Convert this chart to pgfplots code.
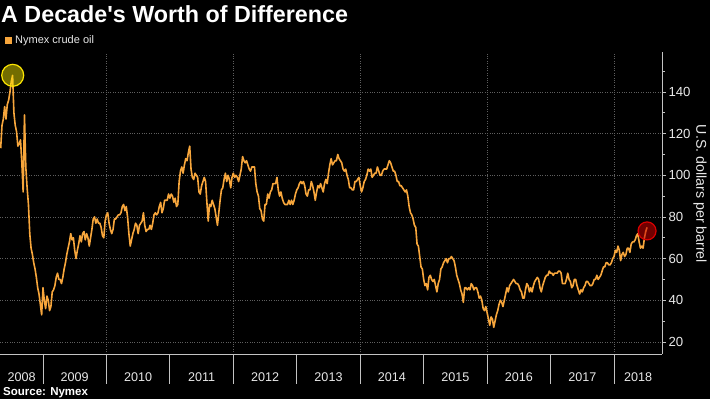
\documentclass[border=0pt]{standalone}
\usepackage{pgfplots}
\pgfplotsset{compat=1.18}
\usepackage{fontspec}
\setmainfont{Liberation Sans}
\definecolor{oil}{RGB}{247,166,60}
\definecolor{gridc}{RGB}{95,95,95}
\definecolor{axisc}{RGB}{195,195,195}
\definecolor{txt}{RGB}{232,232,232}
\begin{document}
\begin{tikzpicture}
\path[use as bounding box, fill=black] (0,0) rectangle (710pt,399pt);
\node[anchor=base west, inner sep=0pt, text=white, font=\bfseries\fontsize{23.3}{23.3}\selectfont] at (1pt,376pt) {A Decade\textquotesingle s Worth of Difference};
\fill[oil] (5pt,355pt) rectangle ++(7pt,7pt);
\node[anchor=west, inner sep=0pt, text=txt, font=\fontsize{11}{11}\selectfont] at (15pt,358.5pt) {Nymex crude oil};
\node[anchor=base west, inner sep=0pt, text=white, font=\bfseries\fontsize{11.5}{11.5}\selectfont] at (3pt,3pt) {Source: Nymex};
\node[rotate=-90, inner sep=0pt, text=txt, font=\fontsize{14.2}{14.2}\selectfont] at (700pt,205pt) {U.S. dollars per barrel};
\begin{axis}[
  at={(0pt,45pt)}, anchor=south west, scale only axis,
  width=662pt, height=302pt,
  xmin=15.48, xmax=516.3, ymin=14.2, ymax=159.2,
  clip=false,
  axis x line*=bottom, axis y line*=right,
  axis line style={draw=axisc, line width=0.8pt, -},
  xtick={31.8,72,120,168,216,264,312,360,408,456,498.2},
  xticklabels={2008,2009,2010,2011,2012,2013,2014,2015,2016,2017,2018},
  x tick style={draw=none},
  minor x tick style={draw=none},
  minor xtick={96,192,288,384,480},
  xminorgrids=true,
  xticklabel style={text=txt, font=\fontsize{12.6}{12.6}\selectfont, anchor=base, yshift=-28pt},
  ytick={20,40,60,80,100,120,140},
  minor ytick={30,50,70,90,110,130,150},
  ymajorgrids=true,
  ytick align=outside,
  major tick length=4pt, minor tick length=3pt,
  y tick style={draw=axisc, line width=0.8pt},
  minor y tick style={draw=axisc, line width=0.8pt},
  yticklabel style={text=txt, font=\fontsize{13.2}{13.2}\selectfont, anchor=west, xshift=-1pt},
  /pgf/number format/assume math mode=true,
  major grid style={draw=gridc, dotted, line width=0.7pt},
  minor grid style={draw=gridc, dotted, line width=0.7pt},
]
\addplot[oil, line width=1.6pt, line join=round] coordinates {
(16,113)(17,124)(18,127)(19,133)
(20,127)(21,134)(22,136)(23,140)
(24,145)(25,148)(26,130)(27,124)
(28,121)(29,114)(30,115)(31,117)
(32,106)(33,92)(34,129)(35,104)
(36,94)(37,86)(38,72)(39,65)
(40,62)(41,58)(42,55)(43,51)
(44,46)(45,43)(46,38)(47,33)
(48,46)(49,40)(50,36)(51,42)
(52,40)(53,35)(54,37)(55,44)
(56,45)(57,47)(58,51)(59,53)
(60,50)(61,50)(62,48)(63,51)
(64,55)(65,58)(66,62)(67,65)
(68,68)(69,72)(70,69)(71,70)
(72,64)(73,60)(74,64)(75,67)
(76,71)(77,68)(78,72)(79,73)
(80,69)(81,72)(82,70)(83,66)
(84,70)(85,74)(86,79)(87,80)
(88,77)(89,79)(90,77)(91,77)
(92,75)(93,71)(94,70)(95,78)
(96,81)(97,82)(98,77)(99,74)
(100,72)(101,74)(102,79)(103,79)
(104,80)(105,81)(106,81)(107,82)
(108,85)(109,86)(110,83)(111,85)
(112,80)(113,72)(114,66)(115,69)
(116,72)(117,74)(118,77)(119,76)
(120,72)(121,76)(122,77)(123,78)
(124,82)(125,76)(126,73)(127,74)
(128,74)(129,76)(130,74)(131,77)
(132,81)(133,82)(134,81)(135,82)
(136,85)(137,87)(138,82)(139,84)
(140,88)(141,88)(142,88)(143,91)
(144,89)(145,91)(146,90)(147,87)
(148,89)(149,85)(150,86)(151,97)
(152,102)(153,104)(154,101)(155,105)
(156,108)(157,107)(158,111)(159,114)
(160,103)(161,99)(162,98)(163,101)
(164,100)(165,99)(166,92)(167,91)
(168,95)(169,97)(170,99)(171,97)
(172,87)(173,78)(174,86)(175,85)
(176,88)(177,86)(178,84)(179,80)
(180,76)(181,82)(182,88)(183,93)
(184,94)(185,98)(186,101)(187,97)
(188,100)(189,98)(190,94)(191,99)
(192,101)(193,99)(194,100)(195,99)
(196,97)(197,100)(198,103)(199,109)
(200,107)(201,106)(202,107)(203,105)
(204,103)(205,102)(206,104)(207,104)
(208,104)(209,96)(210,92)(211,90)
(212,84)(213,83)(214,79)(215,78)
(216,86)(217,86)(218,91)(219,89)
(220,92)(221,93)(222,96)(223,96)
(224,96)(225,99)(226,93)(227,90)
(228,92)(229,89)(230,87)(231,86)
(232,86)(233,86)(234,88)(235,86)
(236,88)(237,86)(238,88)(239,91)
(240,93)(241,94)(242,96)(243,97)
(244,96)(245,97)(246,95)(247,91)
(248,90)(249,93)(250,93)(251,97)
(252,95)(253,92)(254,88)(255,92)
(256,95)(257,94)(258,96)(259,94)
(260,92)(261,96)(262,98)(263,96)
(264,101)(265,105)(266,108)(267,105)
(268,106)(269,107)(270,107)(271,110)
(272,108)(273,107)(274,106)(275,103)
(276,102)(277,103)(278,100)(279,98)
(280,94)(281,94)(282,93)(283,93)
(284,97)(285,97)(286,98)(287,99)
(288,95)(289,92)(290,94)(291,97)
(292,98)(293,100)(294,103)(295,102)
(296,103)(297,99)(298,100)(299,101)
(300,101)(301,104)(302,102)(303,100)
(304,100)(305,102)(306,103)(307,103)
(308,103)(309,105)(310,107)(311,106)
(312,104)(313,102)(314,102)(315,100)
(316,97)(317,97)(318,95)(319,95)
(320,94)(321,93)(322,92)(323,93)
(324,90)(325,85)(326,82)(327,81)
(328,79)(329,76)(330,75)(331,67)
(332,66)(333,61)(334,56)(335,55)
(336,50)(337,47)(338,48)(339,45)
(340,51)(341,52)(342,50)(343,49)
(344,50)(345,47)(346,44)(347,48)
(348,50)(349,55)(350,56)(351,58)
(352,59)(353,60)(354,58)(355,60)
(356,60)(357,61)(358,60)(359,59)
(360,56)(361,52)(362,50)(363,48)
(364,45)(365,43)(366,39)(367,46)
(368,46)(369,45)(370,46)(371,45)
(372,48)(373,47)(374,45)(375,46)
(376,46)(377,44)(378,41)(379,42)
(380,40)(381,36)(382,35)(383,37)
(384,34)(385,31)(386,28)(387,32)
(388,31)(389,27)(390,30)(391,33)
(392,35)(393,38)(394,40)(395,39)
(396,37)(397,40)(398,43)(399,46)
(400,44)(401,47)(402,48)(403,49)
(404,50)(405,49)(406,48)(407,48)
(408,47)(409,45)(410,44)(411,41)
(412,41)(413,45)(414,48)(415,47)
(416,44)(417,46)(418,44)(419,47)
(420,49)(421,50)(422,51)(423,50)
(424,46)(425,44)(426,47)(427,49)
(428,51)(429,52)(430,52)(431,54)
(432,53)(433,53)(434,52)(435,53)
(436,53)(437,53)(438,54)(439,54)
(440,53)(441,48)(442,48)(443,48)
(444,50)(445,53)(446,50)(447,49)
(448,46)(449,47)(450,50)(451,50)
(452,47)(453,45)(454,43)(455,45)
(456,44)(457,46)(458,47)(459,49)
(460,49)(461,48)(462,47)(463,47)
(464,48)(465,50)(466,50)(467,52)
(468,50)(469,51)(470,52)(471,54)
(472,56)(473,56)(474,58)(475,58)
(476,57)(477,57)(478,58)(479,60)
(480,61)(481,64)(482,63)(483,66)
(484,64)(485,59)(486,62)(487,63)
(488,61)(489,62)(490,65)(491,65)
(492,63)(493,67)(494,68)(495,68)
(496,69)(497,71)(498,72)(499,68)
(500,65)(501,66)(502,65)(503,70)
(504,73)(505,75)
};
\addplot[only marks, mark=*, mark size=11pt, mark options={draw=yellow!90!orange, fill=yellow, fill opacity=0.45, line width=1.2pt}] coordinates {(25.1,148)};
\addplot[only marks, mark=*, mark size=9pt, mark options={draw=red!85!black, fill=red!80!black, fill opacity=0.55, line width=1.2pt}] coordinates {(505,73.3)};
\pgfplotsinvokeforeach{48,96,144,192,240,288,336,384,432,480}{
  \draw[axisc, line width=0.8pt] (axis cs:#1,14.2) -- ++(0pt,-30pt);
}
\end{axis}
\end{tikzpicture}
\end{document}
